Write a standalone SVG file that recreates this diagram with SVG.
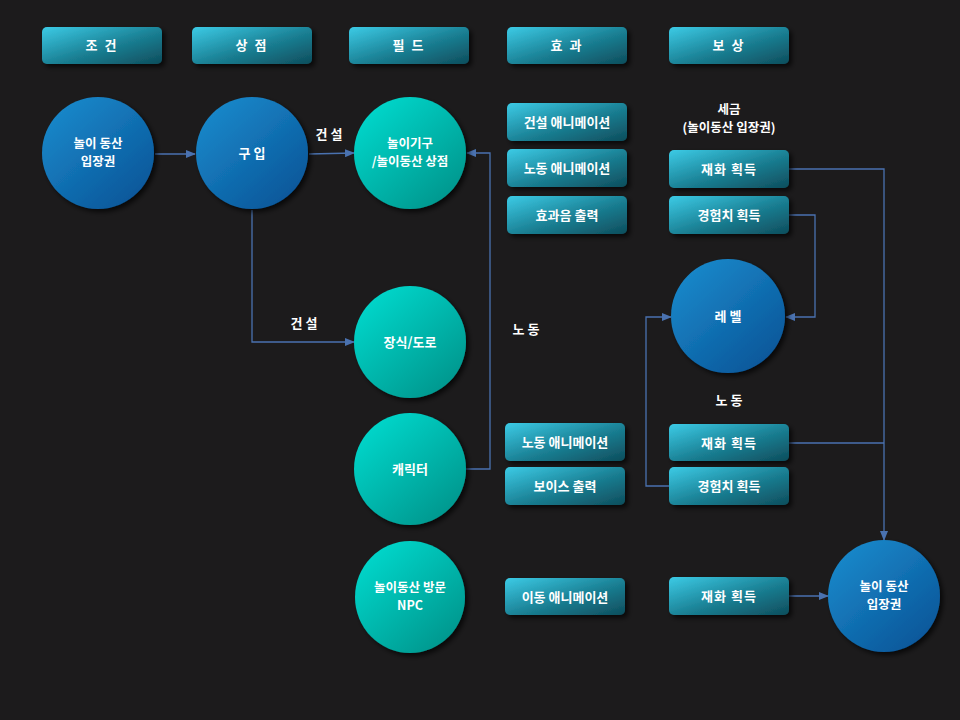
<svg xmlns="http://www.w3.org/2000/svg" width="960" height="720" viewBox="0 0 960 720">
<defs>
<linearGradient id="boxg" x1="0" y1="0" x2="1" y2="1">
<stop offset="0" stop-color="#3ccbe6"/>
<stop offset="0.55" stop-color="#1a7f93"/>
<stop offset="1" stop-color="#0e4d5c"/>
</linearGradient>
<linearGradient id="blueg" x1="0.15" y1="0.1" x2="0.85" y2="0.9">
<stop offset="0" stop-color="#1a87c9"/>
<stop offset="1" stop-color="#08579a"/>
</linearGradient>
<linearGradient id="tealg" x1="0.15" y1="0.1" x2="0.85" y2="0.9">
<stop offset="0" stop-color="#00d6ca"/>
<stop offset="1" stop-color="#00978e"/>
</linearGradient>
<filter id="sh" x="-20%" y="-30%" width="150%" height="170%">
<feDropShadow dx="3" dy="3" stdDeviation="2.5" flood-color="#000" flood-opacity="0.7"/>
</filter>
<marker id="arr" markerWidth="10" markerHeight="8" refX="9" refY="4" orient="auto" markerUnits="userSpaceOnUse">
<path d="M0,0 L10,4 L0,8 Z" fill="#4a72b0"/>
</marker>
</defs>
<style>
.bg{fill:#1c1b1c}
.box{fill:url(#boxg);filter:url(#sh)}
.cb{fill:url(#blueg);filter:url(#sh)}
.ct{fill:url(#tealg);filter:url(#sh)}
text{font-family:"Noto Sans CJK KR","Noto Sans",sans-serif;font-weight:bold;fill:#ffffff;text-anchor:middle;font-size:13px}
.hd{font-size:13px;letter-spacing:2px}
.lb{font-size:13px}
.two{font-size:12.5px}
.conn{fill:none;stroke:#4a72b0;stroke-width:1.3}
</style>
<rect class="bg" x="0" y="0" width="960" height="720"/>

<g id="headers">
<g id="h-cond"><rect class="box" x="42" y="27" width="120" height="37" rx="5"/><text x="102" y="50" class="hd">조 건</text></g>
<g id="h-shop"><rect class="box" x="192" y="27" width="120" height="37" rx="5"/><text x="252" y="50" class="hd">상 점</text></g>
<g id="h-field"><rect class="box" x="349" y="27" width="120" height="37" rx="5"/><text x="409" y="50" class="hd">필 드</text></g>
<g id="h-effect"><rect class="box" x="507" y="27" width="120" height="37" rx="5"/><text x="567" y="50" class="hd">효 과</text></g>
<g id="h-reward"><rect class="box" x="669" y="27" width="120" height="37" rx="5"/><text x="729" y="50" class="hd">보 상</text></g>
</g>

<g id="connectors">
<line class="conn" x1="155" y1="154" x2="195" y2="154" marker-end="url(#arr)"/>
<line class="conn" x1="309" y1="154" x2="354" y2="153" marker-end="url(#arr)"/>
<polyline class="conn" points="252,210 252,342 354,342" marker-end="url(#arr)"/>
<polyline class="conn" points="466,469 490,469 490,153 467,153" marker-end="url(#arr)"/>
<polyline class="conn" points="789,169 884,169 884,540" marker-end="url(#arr)"/>
<polyline class="conn" points="789,215 815,215 815,317 786,317" marker-end="url(#arr)"/>
<line class="conn" x1="789" y1="443" x2="884" y2="443"/>
<polyline class="conn" points="669,486 646,486 646,317 671,317" marker-end="url(#arr)"/>
<line class="conn" x1="789" y1="596" x2="828" y2="596" marker-end="url(#arr)"/>
</g>

<g id="n-ticket1"><circle class="cb" cx="98" cy="153" r="56"/><text x="98" y="148" class="two">놀이 동산</text><text x="98" y="166" class="two">입장권</text></g>
<g id="n-buy"><circle class="cb" cx="252" cy="153" r="56"/><text x="252" y="158" class="lb">구 입</text></g>
<g id="n-ride"><circle class="ct" cx="410" cy="153" r="56"/><text x="410" y="148" class="two">놀이기구</text><text x="410" y="166" class="two">/놀이동산 상점</text></g>
<g id="n-deco"><circle class="ct" cx="410" cy="342" r="56"/><text x="410" y="347">장식/도로</text></g>
<g id="n-char"><circle class="ct" cx="410" cy="469" r="56"/><text x="410" y="474">캐릭터</text></g>
<g id="n-npc"><ellipse class="ct" cx="410" cy="597" rx="55" ry="56"/><text x="410" y="592" class="two">놀이동산 방문</text><text x="410" y="610" class="two">NPC</text></g>
<g id="n-level"><circle class="cb" cx="728" cy="316" r="57"/><text x="728" y="321">레 벨</text></g>
<g id="n-ticket2"><circle class="cb" cx="884" cy="596" r="56"/><text x="884" y="591" class="two">놀이 동산</text><text x="884" y="609" class="two">입장권</text></g>

<g id="b-build-anim"><rect class="box" x="507" y="103" width="120" height="38" rx="5"/><text x="567" y="127">건설 애니메이션</text></g>
<g id="b-labor-anim1"><rect class="box" x="507" y="149" width="120" height="38" rx="5"/><text x="567" y="173">노동 애니메이션</text></g>
<g id="b-sfx"><rect class="box" x="507" y="196" width="120" height="38" rx="5"/><text x="567" y="220">효과음 출력</text></g>
<g id="b-money1"><rect class="box" x="669" y="150" width="120" height="38" rx="5"/><text x="729" y="174" letter-spacing="1">재화 획득</text></g>
<g id="b-exp1"><rect class="box" x="669" y="196" width="120" height="38" rx="5"/><text x="729" y="220">경험치 획득</text></g>
<g id="b-labor-anim2"><rect class="box" x="505" y="423" width="120" height="38" rx="5"/><text x="565" y="447">노동 애니메이션</text></g>
<g id="b-voice"><rect class="box" x="505" y="467" width="120" height="38" rx="5"/><text x="565" y="491">보이스 출력</text></g>
<g id="b-money2"><rect class="box" x="669" y="424" width="120" height="37" rx="5"/><text x="729" y="448" letter-spacing="1">재화 획득</text></g>
<g id="b-exp2"><rect class="box" x="669" y="467" width="120" height="38" rx="5"/><text x="729" y="491">경험치 획득</text></g>
<g id="b-move-anim"><rect class="box" x="505" y="578" width="120" height="37" rx="5"/><text x="565" y="602">이동 애니메이션</text></g>
<g id="b-money3"><rect class="box" x="669" y="577" width="120" height="38" rx="5"/><text x="729" y="601" letter-spacing="1">재화 획득</text></g>

<g id="labels">
<text x="329" y="139" class="lb">건 설</text>
<text x="304" y="328" class="lb">건 설</text>
<text x="526" y="334" class="lb">노 동</text>
<text x="729" y="114" class="two">세금</text>
<text x="729" y="132" class="two">(놀이동산 입장권)</text>
<text x="729" y="405" class="lb">노 동</text>
</g>
</svg>
